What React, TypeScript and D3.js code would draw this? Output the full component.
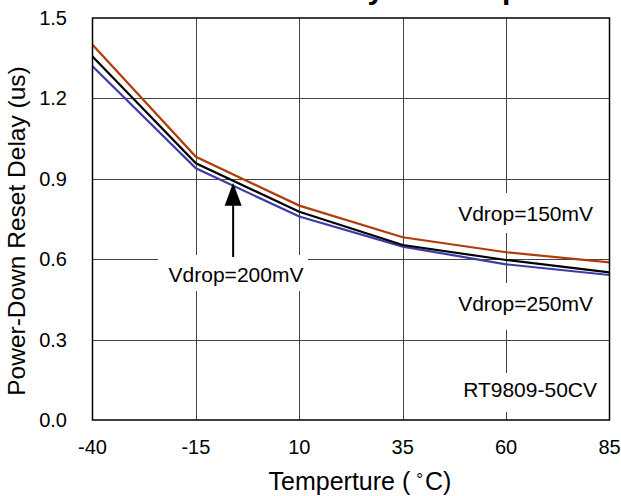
import React, { useEffect, useRef } from 'react';
import * as d3 from 'd3';

// temperature (°C) vs power-down reset delay (us)
const temps = [-40, -15, 10, 35, 60, 85];
const vdrop150 = [1.40, 0.982, 0.80, 0.682, 0.626, 0.588];
const vdrop200 = [1.356, 0.958, 0.777, 0.653, 0.597, 0.551];
const vdrop250 = [1.32, 0.939, 0.759, 0.647, 0.581, 0.541];
const xTicks = [-40, -15, 10, 35, 60, 85];
const yTicks = [0, 0.3, 0.6, 0.9, 1.2, 1.5];

const W = 621;
const H = 496;
const FONT = 'Arial, "Liberation Sans", sans-serif';

export default function App() {
  const svgRef = useRef<SVGSVGElement | null>(null);

  useEffect(() => {
    if (!svgRef.current) return;
    const svg = d3.select(svgRef.current);
    svg.selectAll('*').remove();

    const left = 92.5, right = 609.5, top = 18, bottom = 420;

    const x = d3.scaleLinear().domain([-40, 85]).range([left, right]);
    const y = d3.scaleLinear().domain([0, 1.5]).range([bottom, top]);

    svg.append('rect').attr('width', W).attr('height', H).attr('fill', '#fff');

    // title, mostly cropped off at the top edge
    svg.append('text')
      .attr('x', 24)
      .attr('y', -1)
      .attr('font-family', FONT)
      .attr('font-weight', 'bold')
      .attr('font-size', 30)
      .text('Power-Down Reset Delay vs. Temperature');

    // grid
    const grid = svg.append('g').attr('stroke', '#444').attr('stroke-width', 1);
    xTicks.slice(1, -1).forEach(t => {
      grid.append('line')
        .attr('x1', Math.round(x(t)) + 0.5).attr('x2', Math.round(x(t)) + 0.5)
        .attr('y1', top).attr('y2', bottom);
    });
    yTicks.slice(1, -1).forEach(t => {
      grid.append('line')
        .attr('x1', left).attr('x2', right)
        .attr('y1', Math.round(y(t)) + 0.5).attr('y2', Math.round(y(t)) + 0.5);
    });

    // white boxes behind the annotations
    const boxes = [
      [158, 255, 150, 36],
      [450, 193, 152, 40],
      [450, 283, 152, 47],
      [455, 373, 150, 39],
    ];
    boxes.forEach(([bx, by, bw, bh]) => {
      svg.append('rect')
        .attr('x', bx).attr('y', by).attr('width', bw).attr('height', bh)
        .attr('fill', '#fff');
    });

    // series
    const series = [
      { values: vdrop250, color: '#3c3ca8' },
      { values: vdrop150, color: '#b03c0a' },
      { values: vdrop200, color: '#000' },
    ];
    const line = d3.line<number>()
      .x((d, i) => x(temps[i]))
      .y(d => y(d));
    series.forEach(s => {
      svg.append('path')
        .datum(s.values)
        .attr('fill', 'none')
        .attr('stroke', s.color)
        .attr('stroke-width', 2.2)
        .attr('d', line);
    });

    // frame
    svg.append('rect')
      .attr('x', left).attr('y', top)
      .attr('width', right - left).attr('height', bottom - top)
      .attr('fill', 'none')
      .attr('stroke', '#000')
      .attr('stroke-width', 1.5);

    // arrow pointing at the 200mV curve
    const ax = x(-6);
    const interp = d3.scaleLinear().domain([-15, 10]).range([vdrop200[1], vdrop200[2]]);
    const tipY = y(interp(-6)) + 2;
    svg.append('line')
      .attr('x1', ax).attr('x2', ax)
      .attr('y1', tipY + 20).attr('y2', 257)
      .attr('stroke', '#000').attr('stroke-width', 2);
    svg.append('path')
      .attr('d', `M${ax},${tipY} L${ax - 8.5},${tipY + 23} L${ax + 8.5},${tipY + 23} Z`)
      .attr('fill', '#000');

    // annotation text
    const notes = [
      { t: 'Vdrop=200mV', x: 236, y: 282, anchor: 'middle' },
      { t: 'Vdrop=150mV', x: 593, y: 221, anchor: 'end' },
      { t: 'Vdrop=250mV', x: 593, y: 311, anchor: 'end' },
      { t: 'RT9809-50CV', x: 597, y: 397, anchor: 'end' },
    ];
    notes.forEach(n => {
      svg.append('text')
        .attr('x', n.x).attr('y', n.y)
        .attr('text-anchor', n.anchor)
        .attr('font-family', FONT)
        .attr('font-size', 21)
        .attr('fill', '#000')
        .text(n.t);
    });

    // x tick labels
    xTicks.forEach(t => {
      svg.append('text')
        .attr('x', x(t)).attr('y', 454)
        .attr('text-anchor', 'middle')
        .attr('font-family', FONT)
        .attr('font-size', 20)
        .text(String(t));
    });

    // y tick labels
    yTicks.forEach(t => {
      svg.append('text')
        .attr('x', 67).attr('y', y(t) + 7)
        .attr('text-anchor', 'end')
        .attr('font-family', FONT)
        .attr('font-size', 20)
        .text(d3.format('.1f')(t));
    });

    // axis titles
    const xl = svg.append('text')
      .attr('x', 360).attr('y', 490)
      .attr('text-anchor', 'middle')
      .attr('font-family', FONT)
      .attr('font-size', 25);
    xl.append('tspan').text('Temperture (');
    xl.append('tspan').attr('dx', 6).attr('font-size', 17).attr('dy', -5).text('°');
    xl.append('tspan').attr('dx', 2).attr('dy', 5).text('C)');

    svg.append('text')
      .attr('transform', `translate(25,${231}) rotate(-90)`)
      .attr('text-anchor', 'middle')
      .attr('font-family', FONT)
      .attr('font-size', 24.5)
      .text('Power-Down Reset Delay (us)');
  }, []);

  return (
    <svg
      ref={svgRef}
      width={W}
      height={H}
      style={{ position: 'absolute', left: 0, top: 0, display: 'block' }}
    />
  );
}
